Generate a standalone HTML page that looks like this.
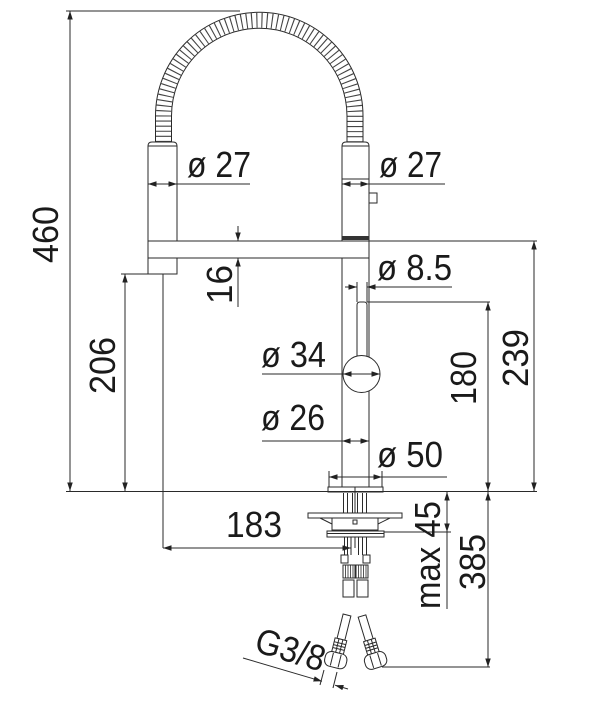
<!DOCTYPE html>
<html><head><meta charset="utf-8"><style>
html,body{margin:0;padding:0;background:#fff;}
svg{display:block;}
text{font-family:"Liberation Sans",Arial,sans-serif;font-size:36px;fill:#1a1a1a;}
</style></head><body>
<svg width="610" height="706" viewBox="0 0 610 706" xmlns="http://www.w3.org/2000/svg">
<defs>
<marker id="a" markerUnits="userSpaceOnUse" markerWidth="9" markerHeight="6" refX="8.5" refY="2.75" orient="auto-start-reverse">
<path d="M0,0 L8.5,2.75 L0,5.5 z" fill="#222"/>
</marker>
</defs>
<g stroke="#2a2a2a" stroke-width="1" fill="none">
<!-- hose -->
<path d="M163.5,142 V116 A95.75,95.75 0 0 1 355,116 V142" stroke="#444" stroke-width="15" stroke-dasharray="1.1 4"/>
<path d="M155.5,142 V116 A103.75,103.75 0 0 1 363,116 V142"/>
<path d="M171.5,142 V116 A87.75,87.75 0 0 1 347,116 V142"/>
<!-- left column -->
<path d="M148,274 V146 Q148,142 152,142 H173 Q177,142 177,146 V274 Z" fill="#fff"/>
<line x1="148" y1="146" x2="177" y2="146"/>
<!-- right column -->
<path d="M342,241 V146 Q342,142 346,142 H365 Q369,142 369,146 V241" fill="#fff"/>
<line x1="342" y1="146" x2="369" y2="146"/>
<line x1="342" y1="179" x2="369" y2="179"/>
<rect x="342" y="236" width="27" height="4" fill="#333" stroke="none"/>
<rect x="369" y="193" width="8" height="10" fill="#fff"/>
<!-- bar -->
<rect x="148" y="241" width="221" height="17" fill="#fff"/>
<!-- body -->
<path d="M342,258 V487 M369,258 V487"/>
<!-- lever -->
<path d="M357,357 V305 Q357,302 360,302 H364 Q367,302 367,305 V357" fill="#fff"/>
<circle cx="361.5" cy="374" r="18.5" fill="#fff"/>
<!-- base plate -->
<rect x="328" y="487" width="55" height="5" fill="#fff"/>
<!-- under-counter -->
<path d="M343.5,493 V513 M347.5,493 V513 M352.5,493 V513 M357.5,493 V513 M362.5,493 V513 M366.5,493 V513"/>
<line x1="355" y1="487" x2="355" y2="548"/>
<rect x="308" y="513" width="94" height="5" fill="#fff"/>
<path d="M320,518 L332,524 M390,518 L378,524"/>
<rect x="332" y="518" width="46" height="12" fill="#fff"/>
<rect x="353" y="520" width="4" height="4"/>
<rect x="327" y="531" width="57" height="6" fill="#fff"/>
<line x1="327" y1="533.5" x2="384" y2="533.5"/>
<path d="M344.5,537 V555 M347.5,537 V555 M351,537 V555 M358.5,537 V555 M362.5,537 V555 M366.5,537 V555"/>
<rect x="341" y="555" width="7" height="8" fill="#fff"/>
<rect x="363" y="555" width="7" height="8" fill="#fff"/>
<rect x="343" y="565" width="12" height="13"/>
<rect x="356" y="565" width="12" height="13"/>
<path d="M345.5,565 V578 M348,565 V578 M350.5,565 V578 M353,565 V578 M358.5,565 V578 M361,565 V578 M363.5,565 V578 M366,565 V578" stroke-width="0.8"/>
<rect x="343" y="580" width="11" height="17"/>
<rect x="357" y="580" width="11" height="17"/>
<!-- bottom fittings -->
<g transform="translate(347,615) rotate(14)">
<rect x="-4" y="0" width="8" height="25" fill="#fff"/>
<rect x="-6" y="25" width="12" height="14" fill="#fff"/>
<path d="M-6,29 H6 M-6,32 H6 M-6,35 H6 M-2,25 V39 M2,25 V39"/>
<rect x="-11" y="39" width="22" height="15" rx="6" fill="#fff"/>
<path d="M-4,40 V53 M4,40 V53"/>
</g>
<g transform="translate(362,616) rotate(-17)">
<rect x="-4" y="0" width="8" height="25" fill="#fff"/>
<rect x="-6" y="25" width="12" height="14" fill="#fff"/>
<path d="M-6,29 H6 M-6,32 H6 M-6,35 H6 M-2,25 V39 M2,25 V39"/>
<rect x="-11" y="39" width="22" height="15" rx="6" fill="#fff"/>
<path d="M-4,40 V53 M4,40 V53"/>
</g>

<!-- dimension / extension lines -->
<line x1="66" y1="11" x2="240" y2="11"/>
<line x1="66" y1="491.5" x2="537" y2="491.5"/>
<line x1="70" y1="11" x2="70" y2="491" marker-start="url(#a)" marker-end="url(#a)"/>
<line x1="121" y1="274" x2="148" y2="274"/>
<line x1="125" y1="274" x2="125" y2="491" marker-start="url(#a)" marker-end="url(#a)"/>
<line x1="163" y1="274" x2="163" y2="548"/>
<line x1="163" y1="548" x2="351" y2="548" marker-start="url(#a)" marker-end="url(#a)"/>
<!-- 16 -->
<line x1="238" y1="226" x2="238" y2="241" marker-end="url(#a)"/>
<line x1="238" y1="307" x2="238" y2="258" marker-end="url(#a)"/>
<!-- ø27 left -->
<line x1="148" y1="184" x2="177" y2="184" marker-start="url(#a)" marker-end="url(#a)"/>
<line x1="177" y1="184" x2="250" y2="184"/>
<!-- ø27 right -->
<line x1="342" y1="184" x2="369" y2="184" marker-start="url(#a)" marker-end="url(#a)"/>
<line x1="369" y1="184" x2="445" y2="184"/>
<!-- bar top extension -->
<line x1="369" y1="241" x2="537" y2="241"/>
<line x1="534" y1="241" x2="534" y2="491" marker-start="url(#a)" marker-end="url(#a)"/>
<!-- ø8.5 -->
<line x1="357" y1="282" x2="357" y2="302"/>
<line x1="367" y1="282" x2="367" y2="302"/>
<line x1="345" y1="287" x2="357" y2="287" marker-end="url(#a)"/>
<line x1="452" y1="287" x2="367" y2="287" marker-end="url(#a)"/>
<!-- 180 -->
<line x1="367" y1="302" x2="490" y2="302"/>
<line x1="488" y1="302" x2="488" y2="491" marker-start="url(#a)" marker-end="url(#a)"/>
<!-- ø34 -->
<line x1="262" y1="374" x2="343" y2="374"/>
<line x1="343" y1="374" x2="380" y2="374" marker-start="url(#a)" marker-end="url(#a)"/>
<!-- ø26 -->
<line x1="262" y1="441" x2="342" y2="441"/>
<line x1="342" y1="441" x2="369" y2="441" marker-start="url(#a)" marker-end="url(#a)"/>
<!-- ø50 -->
<line x1="329" y1="471" x2="329" y2="487"/>
<line x1="382" y1="471" x2="382" y2="487"/>
<line x1="329" y1="477" x2="382" y2="477" marker-start="url(#a)" marker-end="url(#a)"/>
<line x1="382" y1="477" x2="447" y2="477"/>
<!-- max 45 -->
<line x1="384" y1="532" x2="451" y2="532"/>
<line x1="447" y1="492" x2="447" y2="532" marker-start="url(#a)" marker-end="url(#a)"/>
<line x1="447" y1="532" x2="447" y2="609"/>
<!-- 385 -->
<line x1="382" y1="667" x2="490" y2="667"/>
<line x1="488" y1="492" x2="488" y2="667" marker-start="url(#a)" marker-end="url(#a)"/>
<!-- G3/8 -->
<line x1="243" y1="658" x2="322" y2="681.3" marker-end="url(#a)"/>
<line x1="348" y1="689" x2="335" y2="685.2" marker-end="url(#a)"/>
<line x1="324" y1="670" x2="320" y2="685"/>
<line x1="337" y1="672" x2="333" y2="688"/>
</g>

<!-- labels -->
<text x="187" y="177" textLength="64" lengthAdjust="spacingAndGlyphs">ø 27</text>
<text x="379" y="177" textLength="63" lengthAdjust="spacingAndGlyphs">ø 27</text>
<text x="377" y="280" textLength="75" lengthAdjust="spacingAndGlyphs">ø 8.5</text>
<text x="261" y="367" textLength="65" lengthAdjust="spacingAndGlyphs">ø 34</text>
<text x="261" y="430" textLength="64" lengthAdjust="spacingAndGlyphs">ø 26</text>
<text x="377" y="467" textLength="66" lengthAdjust="spacingAndGlyphs">ø 50</text>
<text x="226" y="537" textLength="56" lengthAdjust="spacingAndGlyphs">183</text>
<text transform="translate(58,263) rotate(-90)" textLength="57" lengthAdjust="spacingAndGlyphs">460</text>
<text transform="translate(115,394) rotate(-90)" textLength="57" lengthAdjust="spacingAndGlyphs">206</text>
<text transform="translate(232,304) rotate(-90)" textLength="39" lengthAdjust="spacingAndGlyphs">16</text>
<text transform="translate(476,405) rotate(-90)" textLength="54" lengthAdjust="spacingAndGlyphs">180</text>
<text transform="translate(528,387) rotate(-90)" textLength="58" lengthAdjust="spacingAndGlyphs">239</text>
<text transform="translate(440,609) rotate(-90)" textLength="108" lengthAdjust="spacingAndGlyphs">max 45</text>
<text transform="translate(485,590) rotate(-90)" textLength="56" lengthAdjust="spacingAndGlyphs">385</text>
<text transform="translate(253,651) rotate(17)" textLength="71" lengthAdjust="spacingAndGlyphs">G3/8</text>
</svg>
</body></html>
